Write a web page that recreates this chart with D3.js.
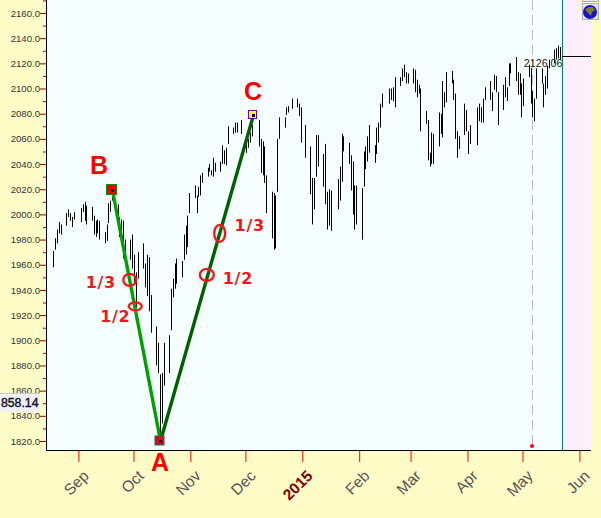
<!DOCTYPE html>
<html>
<head>
<meta charset="utf-8">
<script src="https://cdn.jsdelivr.net/npm/d3@7"></script>
<style>
  html, body { margin: 0; padding: 0; background: #fffcc8; overflow: hidden; }
  svg { display: block; }
  text { font-family: "Liberation Sans", Arial, sans-serif; }
</style>
</head>
<body>
<svg id="chart" width="601" height="518" viewBox="0 0 601 518"></svg>
<script>
'use strict';

// one row per trading week
var days = [
  '2014-08-18', '2014-08-19', '2014-08-20', '2014-08-21', '2014-08-22',
  '2014-08-25', '2014-08-26', '2014-08-27', '2014-08-28', '2014-08-29',
  '2014-09-02', '2014-09-03', '2014-09-04', '2014-09-05',
  '2014-09-08', '2014-09-09', '2014-09-10', '2014-09-11', '2014-09-12',
  '2014-09-15', '2014-09-16', '2014-09-17', '2014-09-18', '2014-09-19',
  '2014-09-22', '2014-09-23', '2014-09-24', '2014-09-25', '2014-09-26',
  '2014-09-29', '2014-09-30', '2014-10-01', '2014-10-02', '2014-10-03',
  '2014-10-06', '2014-10-07', '2014-10-08', '2014-10-09', '2014-10-10',
  '2014-10-13', '2014-10-14', '2014-10-15', '2014-10-16', '2014-10-17',
  '2014-10-20', '2014-10-21', '2014-10-22', '2014-10-23', '2014-10-24',
  '2014-10-27', '2014-10-28', '2014-10-29', '2014-10-30', '2014-10-31',
  '2014-11-03', '2014-11-04', '2014-11-05', '2014-11-06', '2014-11-07',
  '2014-11-10', '2014-11-11', '2014-11-12', '2014-11-13', '2014-11-14',
  '2014-11-17', '2014-11-18', '2014-11-19', '2014-11-20', '2014-11-21',
  '2014-11-24', '2014-11-25', '2014-11-26', '2014-11-28',
  '2014-12-01', '2014-12-02', '2014-12-03', '2014-12-04', '2014-12-05',
  '2014-12-08', '2014-12-09', '2014-12-10', '2014-12-11', '2014-12-12',
  '2014-12-15', '2014-12-16', '2014-12-17', '2014-12-18', '2014-12-19',
  '2014-12-22', '2014-12-23', '2014-12-24', '2014-12-26',
  '2014-12-29', '2014-12-30', '2014-12-31', '2015-01-02',
  '2015-01-05', '2015-01-06', '2015-01-07', '2015-01-08', '2015-01-09',
  '2015-01-12', '2015-01-13', '2015-01-14', '2015-01-15', '2015-01-16',
  '2015-01-20', '2015-01-21', '2015-01-22', '2015-01-23',
  '2015-01-26', '2015-01-27', '2015-01-28', '2015-01-29', '2015-01-30',
  '2015-02-02', '2015-02-03', '2015-02-04', '2015-02-05', '2015-02-06',
  '2015-02-09', '2015-02-10', '2015-02-11', '2015-02-12', '2015-02-13',
  '2015-02-17', '2015-02-18', '2015-02-19', '2015-02-20',
  '2015-02-23', '2015-02-24', '2015-02-25', '2015-02-26', '2015-02-27',
  '2015-03-02', '2015-03-03', '2015-03-04', '2015-03-05', '2015-03-06',
  '2015-03-09', '2015-03-10', '2015-03-11', '2015-03-12', '2015-03-13',
  '2015-03-16', '2015-03-17', '2015-03-18', '2015-03-19', '2015-03-20',
  '2015-03-23', '2015-03-24', '2015-03-25', '2015-03-26', '2015-03-27',
  '2015-03-30', '2015-03-31', '2015-04-01', '2015-04-02',
  '2015-04-06', '2015-04-07', '2015-04-08', '2015-04-09', '2015-04-10',
  '2015-04-13', '2015-04-14', '2015-04-15', '2015-04-16', '2015-04-17',
  '2015-04-20', '2015-04-21', '2015-04-22', '2015-04-23', '2015-04-24',
  '2015-04-27', '2015-04-28', '2015-04-29', '2015-04-30', '2015-05-01',
  '2015-05-04', '2015-05-05', '2015-05-06', '2015-05-07', '2015-05-08',
  '2015-05-11', '2015-05-12', '2015-05-13', '2015-05-14', '2015-05-15',
  '2015-05-18', '2015-05-19', '2015-05-20', '2015-05-21', '2015-05-22'
];

var highs = [
  1971, 1981, 1988, 1994, 1992,
  2001, 2004, 2001, 1998, 2002,
  2005, 2008, 2010, 2007,
  2006, 1999, 1995, 1996, 1995,
  1986, 1992, 2009, 2011, 2019,
  2008, 1998, 1996, 1995, 1980,
  1980, 1984, 1968, 1954, 1970,
  1977, 1961, 1968, 1966, 1936,
  1911, 1898, 1873, 1874, 1898,
  1904, 1941, 1949, 1961, 1965,
  1963, 1984, 1991, 1999, 2017,
  2023, 2015, 2022, 2031, 2033,
  2037, 2040, 2035, 2045, 2041,
  2042, 2055, 2051, 2053, 2070,
  2069, 2073, 2073, 2075,
  2056, 2060, 2065, 2071, 2079,
  2075, 2060, 2058, 2054, 2031,
  2018, 2017, 2015, 2060, 2077,
  2077, 2085, 2086, 2092,
  2092, 2088, 2085, 2071,
  2054, 2029, 2029, 2063, 2063,
  2048, 2056, 2018, 2020, 2019,
  2028, 2038, 2064, 2062,
  2057, 2047, 2042, 2023, 2023,
  2021, 2050, 2054, 2062, 2071,
  2055, 2069, 2073, 2088, 2096,
  2100, 2100, 2101, 2109,
  2109, 2116, 2119, 2113, 2112,
  2116, 2115, 2107, 2103, 2100,
  2082, 2075, 2049, 2065, 2064,
  2081, 2080, 2106, 2097, 2113,
  2114, 2107, 2096, 2066, 2062,
  2088, 2083, 2066, 2071,
  2085, 2088, 2085, 2092, 2101,
  2106, 2097, 2111, 2110, 2097,
  2103, 2109, 2101, 2120, 2120,
  2125, 2113, 2112, 2104, 2108,
  2119, 2116, 2098, 2092, 2116,
  2116, 2104, 2110, 2118, 2123,
  2131, 2132, 2134, 2133, 2132
];

var lows = [
  1958, 1972, 1977, 1985, 1984,
  1991, 1998, 1995, 1990, 1996,
  1994, 2002, 1995, 1992,
  1995, 1984, 1982, 1985, 1980,
  1977, 1979, 1993, 2002, 2011,
  1991, 1982, 1980, 1965, 1968,
  1964, 1957, 1944, 1926, 1949,
  1957, 1942, 1935, 1923, 1906,
  1880, 1874, 1820, 1834, 1864,
  1874, 1908, 1934, 1941, 1945,
  1950, 1964, 1968, 1974, 2001,
  2013, 2001, 2014, 2015, 2025,
  2030, 2034, 2031, 2030, 2034,
  2034, 2040, 2040, 2039, 2056,
  2064, 2065, 2065, 2064,
  2049, 2053, 2057, 2062, 2075,
  2054, 2033, 2031, 2025, 2001,
  1981, 1972, 1973, 2018, 2060,
  2069, 2079, 2081, 2084,
  2085, 2078, 2057, 2045,
  2016, 1992, 2004, 2030, 2038,
  2022, 2008, 1988, 1991, 1987,
  2004, 2011, 2026, 2050,
  2040, 2019, 2000, 1988, 1992,
  1980, 2022, 2036, 2042, 2049,
  2041, 2048, 2057, 2069, 2085,
  2088, 2091, 2090, 2085,
  2102, 2106, 2109, 2104, 2104,
  2104, 2097, 2093, 2096, 2066,
  2072, 2043, 2038, 2040, 2040,
  2054, 2064, 2061, 2085, 2089,
  2104, 2091, 2060, 2045, 2052,
  2063, 2066, 2048, 2056,
  2055, 2074, 2073, 2073, 2091,
  2091, 2082, 2099, 2097, 2071,
  2083, 2093, 2090, 2102, 2112,
  2106, 2095, 2095, 2077, 2086,
  2109, 2088, 2077, 2074, 2092,
  2104, 2085, 2095, 2100, 2116,
  2120, 2123, 2124, 2123, 2126
];

var priceTicks = d3.range(1820, 2161, 20);
var minorTicks = d3.range(1830, 2171, 20);

var monthDays = ['2014-09-01', '2014-10-01', '2014-11-01', '2014-12-01', '2015-01-01',
  '2015-02-01', '2015-03-01', '2015-04-01', '2015-05-01', '2015-06-01'];
var monthNames = ['Sep', 'Oct', 'Nov', 'Dec', '2015', 'Feb', 'Mar', 'Apr', 'May', 'Jun'];

// wave points A, B, C
var waveNames = ['B', 'A', 'C'];
var waveDays = ['2014-09-19', '2014-10-15', '2014-12-05'];
var wavePrices = [2019, 1820, 2079];

// retracement circles and their labels
var ringDays = ['2014-09-29', '2014-10-02', '2014-11-10', '2014-11-17'];
var ringPrices = [1948, 1927, 1952, 1985];
var ringLabels = ['1/3', '1/2', '1/2', '1/3'];

var lastClose = 2126.06;
var cursorPrice = 1858.14;
var cursorLabel = '858.14'; // leading digit is lost under the window edge in the original
var cursorDay = '2015-05-06';
var edgeDay = '2015-05-23';

var parseDay = d3.utcParse('%Y-%m-%d');

var svg = d3.select('#chart');
var plotLeft = 46;
var plotRight = 591;
var plotBottom = 450;

var x = d3.scaleUtc()
  .domain([parseDay('2014-09-01'), parseDay('2015-06-01')])
  .range([78.4, 579.4]);
var y = d3.scaleLinear().domain([1820, 2160]).range([441, 13]);

// bars sit about a pixel right of the month ticks
function barX(day) {
  return Math.round(x(parseDay(day)) + 0.7);
}

var defs = svg.append('defs');
defs.append('filter').attr('id', 'soft')
  .attr('x', '-40%').attr('y', '-40%').attr('width', '180%').attr('height', '180%')
  .append('feDropShadow')
  .attr('dx', -1).attr('dy', 1).attr('stdDeviation', 1.5)
  .attr('flood-color', '#888').attr('flood-opacity', 0.35);

var edgeX = Math.floor(x(parseDay(edgeDay)));

svg.append('rect').attr('x', plotLeft).attr('y', 0)
  .attr('width', edgeX - plotLeft).attr('height', plotBottom).attr('fill', '#f5ffff');
svg.append('rect').attr('x', edgeX).attr('y', 0)
  .attr('width', plotRight - edgeX).attr('height', plotBottom).attr('fill', '#fdf0fc');

// cursor line and its marker
var cursorX = barX(cursorDay);
svg.append('line').attr('x1', cursorX + 0.5).attr('x2', cursorX + 0.5)
  .attr('y1', 0).attr('y2', plotBottom)
  .attr('stroke', '#bbb').attr('stroke-dasharray', '10,5');

// price bars
svg.append('g').selectAll('line').data(days).enter().append('line')
  .attr('x1', function (d) { return barX(d) + 0.5; })
  .attr('x2', function (d) { return barX(d) + 0.5; })
  .attr('y1', function (d, i) { return y(highs[i]); })
  .attr('y2', function (d, i) { return y(lows[i]); })
  .attr('stroke', '#000').attr('stroke-width', 1);

svg.append('circle').attr('cx', cursorX).attr('cy', y(1816)).attr('r', 2).attr('fill', '#f00');

// wave legs
var legColors = ['#00a000', '#006000'];
[0, 1].forEach(function (i) {
  svg.append('line')
    .attr('x1', barX(waveDays[i]) + 0.5).attr('y1', y(wavePrices[i]))
    .attr('x2', barX(waveDays[i + 1]) + 0.5).attr('y2', y(wavePrices[i + 1]))
    .attr('stroke', legColors[i]).attr('stroke-width', 3.4);
});

// wave markers
var markFill = ['#f00000', '#e00030', '#ffff00'];
var markStroke = ['#0a8a0a', '#0a7a2a', '#800080'];
var markSize = [10, 9, 8];
waveDays.forEach(function (d, i) {
  var s = markSize[i];
  var cx = Math.round(barX(d));
  var cy = Math.round(y(wavePrices[i]));
  svg.append('rect').attr('x', cx - s / 2 - 0.5).attr('y', cy - s / 2 - 0.5)
    .attr('width', s).attr('height', s)
    .attr('fill', markFill[i]).attr('stroke', markStroke[i]).attr('stroke-width', 1);
  svg.append('rect').attr('x', cx - 1).attr('y', cy - 1)
    .attr('width', 3).attr('height', 3).attr('fill', '#000');
});

var labelDx = [-13, 0, 0];
var labelDy = [-16, 30, -15];
svg.append('g').selectAll('text').data(waveNames).enter().append('text')
  .attr('x', function (d, i) { return barX(waveDays[i]) + labelDx[i]; })
  .attr('y', function (d, i) { return y(wavePrices[i]) + labelDy[i]; })
  .attr('text-anchor', 'middle')
  .attr('font-size', 25).attr('font-weight', 'bold').attr('fill', '#f00')
  .text(function (d) { return d; });

// retracement rings
var ringRx = [6.5, 6.5, 7, 5.5];
var ringRy = [6, 4, 6, 8.5];
svg.append('g').selectAll('ellipse').data(ringDays).enter().append('ellipse')
  .attr('cx', function (d) { return x(parseDay(d)); })
  .attr('cy', function (d, i) { return y(ringPrices[i]); })
  .attr('rx', function (d, i) { return ringRx[i]; })
  .attr('ry', function (d, i) { return ringRy[i]; })
  .attr('fill', 'none').attr('stroke', '#f01818').attr('stroke-width', 2.3)
  .attr('filter', 'url(#soft)');

var ringTextDx = [-29, -20, 31, 30];
var ringTextDy = [8, 16, 9, -2];
svg.append('g').selectAll('text').data(ringLabels).enter().append('text')
  .attr('x', function (d, i) { return x(parseDay(ringDays[i])) + ringTextDx[i]; })
  .attr('y', function (d, i) { return y(ringPrices[i]) + ringTextDy[i]; })
  .attr('text-anchor', 'middle')
  .style('font-family', '"DejaVu Sans"')
  .style('letter-spacing', '0.7px')
  .attr('font-size', 16).attr('font-weight', 'bold').attr('fill', '#f01818')
  .text(function (d) { return d; });

// end of data line and last close
svg.append('line').attr('x1', edgeX + 0.5).attr('x2', edgeX + 0.5)
  .attr('y1', 0).attr('y2', plotBottom).attr('stroke', '#008080').attr('stroke-width', 1);
svg.append('line').attr('x1', edgeX).attr('x2', plotRight)
  .attr('y1', Math.round(y(lastClose)) + 0.5).attr('y2', Math.round(y(lastClose)) + 0.5)
  .attr('stroke', '#000');
svg.append('text').attr('x', edgeX + 0.5).attr('y', y(lastClose) + 11)
  .attr('text-anchor', 'end').attr('font-size', 10.7).attr('fill', '#222')
  .text(d3.format('.2f')(lastClose));

// y axis
var yAxis = d3.axisLeft(y).tickValues(priceTicks).tickSize(6).tickPadding(0)
  .tickFormat(d3.format('.1f'));
var yG = svg.append('g').attr('transform', 'translate(' + plotLeft + ',0)').call(yAxis);
yG.select('.domain').remove();
yG.selectAll('line').attr('stroke', '#900');
yG.selectAll('text').attr('font-size', 9.6).attr('fill', '#333')
  .style('font-family', '"Liberation Sans"');

var yMinor = d3.axisLeft(y).tickValues(minorTicks).tickSize(3).tickFormat('');
var yMinorG = svg.append('g').attr('transform', 'translate(' + plotLeft + ',0)').call(yMinor);
yMinorG.select('.domain').remove();
yMinorG.selectAll('line').attr('stroke', '#c00000');

// x axis
var xAxis = d3.axisBottom(x).tickValues(monthDays.map(parseDay)).tickSize(12)
  .tickFormat(function (d, i) { return monthNames[i]; });
var xG = svg.append('g').attr('transform', 'translate(0,' + plotBottom + ')').call(xAxis);
xG.select('.domain').remove();
xG.selectAll('line').attr('stroke', '#f00');
xG.selectAll('text')
  .attr('text-anchor', 'end')
  .attr('transform', 'translate(7,23) rotate(-45)')
  .attr('x', 0).attr('y', 0).attr('dy', '0.35em')
  .attr('font-size', 15.5).attr('fill', '#555')
  .style('font-family', '"Liberation Sans"');
xG.selectAll('text').filter(function (d, i) { return monthNames[i] === '2015'; })
  .attr('font-weight', 'bold').attr('fill', '#800000');

// frame
svg.append('line').attr('x1', plotLeft + 0.5).attr('x2', plotLeft + 0.5)
  .attr('y1', 0).attr('y2', plotBottom + 1).attr('stroke', '#000');
svg.append('line').attr('x1', plotLeft).attr('x2', plotRight)
  .attr('y1', plotBottom + 0.5).attr('y2', plotBottom + 0.5).attr('stroke', '#000');

// cursor price tag
var tagY = y(cursorPrice);
svg.append('rect').attr('x', 0).attr('y', tagY).attr('width', 40).attr('height', 19)
  .attr('fill', '#f0f0f2');
svg.append('line').attr('x1', 0).attr('x2', 40).attr('y1', tagY + 0.5).attr('y2', tagY + 0.5)
  .attr('stroke', '#ccc');
svg.append('text').attr('x', 38.5).attr('y', tagY + 14).attr('text-anchor', 'end')
  .attr('font-size', 12.3).attr('fill', '#101030').attr('stroke', '#101030').attr('stroke-width', 0.4)
  .text(cursorLabel);

// globe button
var globe = svg.append('g').attr('transform', 'translate(590,12)');
globe.append('rect').attr('x', -7.5).attr('y', -8.5).attr('width', 16).attr('height', 16)
  .attr('fill', '#e8e8e8').attr('stroke', '#b0b0b0');
globe.append('circle').attr('r', 7).attr('fill', '#1414d0');
globe.append('path').attr('d', 'M-5,-3 L-1,-5 L3,-5 L5,-2 L2,0 L1,4 L-1,2 L-3,0 Z').attr('fill', '#808020');
svg.append('rect').attr('x', 582.5).attr('y', -1).attr('width', 16).attr('height', 2.5)
  .attr('fill', '#e8e8e8').attr('stroke', '#b0b0b0');
</script>
</body>
</html>
